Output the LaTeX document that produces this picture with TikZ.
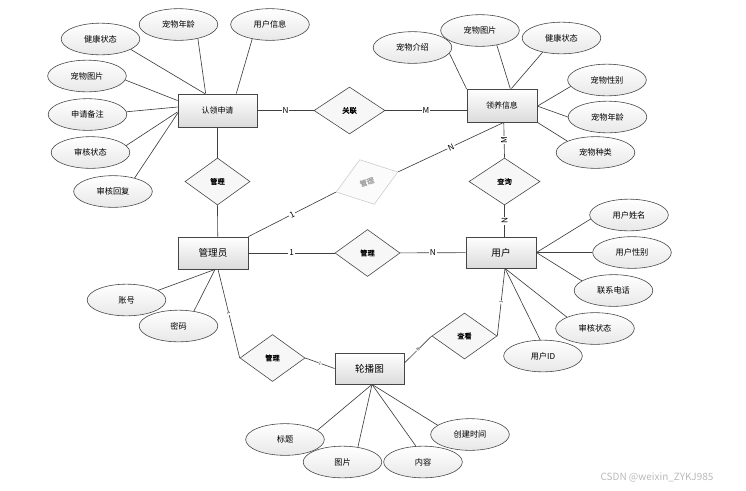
\documentclass[tikz,border=0pt]{standalone}
\usepackage{fontspec}
\setmainfont{Noto Sans CJK SC}
\usetikzlibrary{shapes,calc,positioning}

\begin{document}
\begin{tikzpicture}[x=0.03cm,y=-0.03cm]
  \tikzset{ ent/.style={rectangle,draw=gray!55!black,line width=0.7pt,top color=white,bottom color=gray!28,minimum width=2.1cm,minimum height=0.96cm,inner sep=1pt,font=\fontsize{8.2}{9}\selectfont},
    sent/.style={ent,font=\fontsize{6.8}{8}\selectfont},
    attr/.style={ellipse,draw=gray!55!black,line width=0.5pt,top color=white,bottom color=gray!18,minimum width=2.36cm,minimum height=0.95cm,inner sep=0pt,font=\fontsize{7}{8}\selectfont},
    rel/.style={diamond,draw=gray!55!black,line width=0.5pt,fill=gray!6,minimum width=1.95cm,minimum height=1.41cm,inner sep=0pt,font=\fontsize{6.2}{7}\selectfont\addfontfeatures{FakeBold=1.5}},
    ln/.style={draw=black!75,line width=0.55pt},
    lab/.style={fill=white,inner sep=0.8pt,font=\fontsize{7}{8}\selectfont},
    tlab/.style={fill=white,inner sep=0.3pt,sloped,font=\fontsize{3.5}{4}\selectfont},
  }
  \useasboundingbox (0,0) rectangle (746,490);

  % entities
  \node[sent,minimum width=2.37cm,minimum height=0.99cm] (ap) at (217.5,110.5) {认领申请};
  \node[sent,minimum height=0.99cm] (pi) at (502,105.5) {领养信息};
  \node[ent] (ad) at (213,253) {管理员};
  \node[ent,minimum height=0.93cm] (us) at (501,252.5) {用户};
  \node[ent,minimum width=2.07cm,minimum height=0.93cm] (bn) at (369.5,368.5) {轮播图};

  % relations
  \node[rel,minimum width=2.13cm] (r1) at (349.5,110.5) {关联};
  \node[rel] (m1) at (217.5,181.5) {管理};
  \node[rel,draw=gray!40,fill=gray!3,text=gray!70,rotate=18] (g) at (367,182) {管理};
  \node[rel] (m2) at (367.5,253) {管理};
  \node[rel,minimum width=2.13cm] (q) at (504.5,181.5) {查询};
  \node[rel] (m4) at (272.5,358) {管理};
  \node[rel,minimum height=1.38cm] (v) at (464.5,336) {查看};

  % attributes
  \node[attr] (a1) at (100.5,39) {健康状态};
  \node[attr] (a2) at (178.5,24.5) {宠物年龄};
  \node[attr] (a3) at (270,24.5) {用户信息};
  \node[attr] (a4) at (87,76) {宠物图片};
  \node[attr] (a5) at (87.5,114.5) {申请备注};
  \node[attr] (a6) at (90.5,152.5) {审核状态};
  \node[attr] (a7) at (113,191.5) {审核回复};
  \node[attr] (b1) at (412.5,47.5) {宠物介绍};
  \node[attr] (b2) at (480,30.5) {宠物图片};
  \node[attr] (b3) at (561.5,38) {健康状态};
  \node[attr] (b4) at (607,80) {宠物性别};
  \node[attr] (b5) at (607.5,117) {宠物年龄};
  \node[attr] (b6) at (595.5,152.5) {宠物种类};
  \node[attr] (c1) at (629,215) {用户姓名};
  \node[attr] (c2) at (632,252.5) {用户性别};
  \node[attr] (c3) at (613.5,290.5) {联系电话};
  \node[attr] (c4) at (595,328.5) {审核状态};
  \node[attr] (c5) at (543,356) {用户ID};
  \node[attr] (d1) at (126.5,300) {账号};
  \node[attr] (d2) at (178.5,326) {密码};
  \node[attr] (e1) at (285,439.5) {标题};
  \node[attr] (e2) at (342.5,462) {图片};
  \node[attr] (e3) at (423,462) {内容};
  \node[attr] (e4) at (470,434.5) {创建时间};

  % the connection between the attributes and the entities
  \draw[ln] (a1.-19) -- (ap.127);
  \draw[ln] (a2.-36) -- (ap.125);
  \draw[ln] (a3.-141) -- (ap.42);
  \draw[ln] (a4.-6) -- (ap.166);
  \draw[ln] (a5.4) -- (ap.175);
  \draw[ln] (a6.11) -- (ap.182);
  \draw[ln] (a7.32) -- (ap.184);
  \draw[ln] (b1.-9) -- (pi.155);
  \draw[ln] (b2.-41) -- (pi.64);
  \draw[ln] (b3.-143) -- (pi.61);
  \draw[ln] (b4.-170) -- (pi.-1);
  \draw[ln] (b5.west) -- (pi.-1);
  \draw[ln] (b6.158) -- (pi.south east);
  \draw[ln] (c1.-174) -- (us.east);
  \draw[ln] (c2.west) -- (us.east);
  \draw[ln] (c3.163) -- (us.east);
  \draw[ln] (c4.158) -- (us.-76);
  \draw[ln] (c5.100) -- (us.-76);
  \draw[ln] (d1.17) -- (ad.-83);
  \draw[ln] (d2.44) -- (ad.-83);
  \draw[ln] (e1.16) -- (bn.-81);
  \draw[ln] (e2.44) -- (bn.-81);
  \draw[ln] (e3.114) -- (bn.-81);
  \draw[ln] (e4.164) -- (bn.-81);

  % the connection between the entities and the relations
  \draw[ln] (ap) -- (r1) node[lab,midway] {N};
  \draw[ln] (r1.east) -- (r1.east -| pi.west) node[lab,midway] {M};
  \draw[ln] (ap.south) -- (m1.north);
  \draw[ln] (m1.south) -- (ad.74);
  \draw[ln] (ad.north east) -- (g.west) node[lab,midway,sloped] {1};
  \draw[ln] (g.east) -- (pi.-84) node[lab,midway,sloped] {N};
  \draw[ln] (pi.-84) -- (q.north) node[lab,midway,rotate=90] {M};
  \draw[ln] (q.south) -- (q.south |- us.north) node[lab,midway,rotate=90] {N};
  \draw[ln] (ad) -- (m2) node[lab,midway] {1};
  \draw[ln] (m2) -- (us) node[lab,midway] {N};
  \draw[ln] (ad.-73) -- (m4.west) node[tlab,midway] {1};
  \draw[ln] (m4.east) -- (bn.west) node[tlab,midway] {1};
  \draw[ln] (us.-76) -- (v.east) node[tlab,midway] {1};
  \draw[ln] (v.west) -- (bn.9) node[tlab,midway] {N};

  \node[text=gray!55,font=\fontsize{8.5}{9}\selectfont] (wm) at (657,477) {CSDN @weixin\_ZYKJ985};
\end{tikzpicture}
\end{document}
